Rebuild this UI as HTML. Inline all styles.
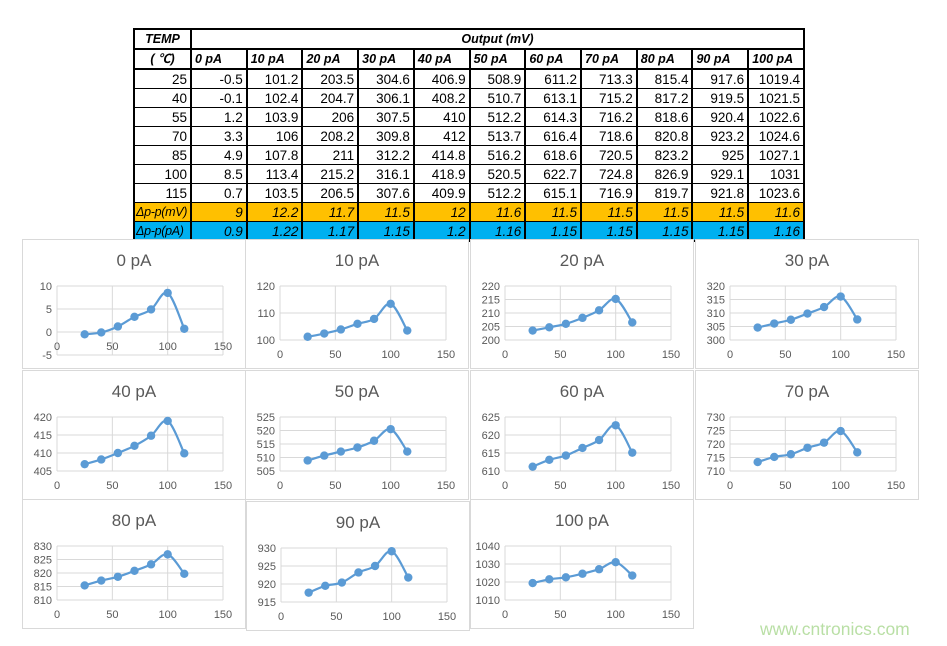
<!DOCTYPE html>
<html><head><meta charset="utf-8">
<style>
body{margin:0;background:#fff;width:947px;height:646px;overflow:hidden;position:relative;font-family:"Liberation Sans","Noto Sans CJK SC",sans-serif;}
table{position:absolute;left:133px;top:28px;border-collapse:collapse;table-layout:fixed;width:672px;font-size:13.5px;}
td{border-top:1px solid #000;border-bottom:1px solid #000;border-left:2px solid #000;border-right:2px solid #000;padding:0 3px;height:18px;text-align:right;white-space:nowrap;overflow:hidden;line-height:17px;}
tr.h td{font-weight:bold;font-style:italic;text-align:left;border-bottom:2px solid #000;font-size:12.5px;}
tr.h1 td{border-top:2px solid #000;border-bottom:2px solid #000;}
tr.o td{background:#FFC000;font-style:italic;}
tr.b td{background:#00B0F0;font-style:italic;border-bottom:2px solid #000;}
td.f{padding:0 0 0 1px;font-size:12.5px;letter-spacing:-0.3px;text-align:left;}
svg{position:absolute;left:0;top:0;}
.wm{position:absolute;left:760px;top:619px;color:#b9dfa5;font-size:17.5px;}
</style></head><body>
<table>
<colgroup><col style="width:57px"><col span="11"></colgroup>
<tr class="h h1"><td style="text-align:center">TEMP</td><td colspan="11" style="text-align:center;border-bottom:2px solid #000">Output (mV)</td></tr>
<tr class="h"><td style="text-align:center">( ℃)</td><td>0 pA</td><td>10 pA</td><td>20 pA</td><td>30 pA</td><td>40 pA</td><td>50 pA</td><td>60 pA</td><td>70 pA</td><td>80 pA</td><td>90 pA</td><td>100 pA</td></tr>
<tr><td>25</td><td>-0.5</td><td>101.2</td><td>203.5</td><td>304.6</td><td>406.9</td><td>508.9</td><td>611.2</td><td>713.3</td><td>815.4</td><td>917.6</td><td>1019.4</td></tr>
<tr><td>40</td><td>-0.1</td><td>102.4</td><td>204.7</td><td>306.1</td><td>408.2</td><td>510.7</td><td>613.1</td><td>715.2</td><td>817.2</td><td>919.5</td><td>1021.5</td></tr>
<tr><td>55</td><td>1.2</td><td>103.9</td><td>206</td><td>307.5</td><td>410</td><td>512.2</td><td>614.3</td><td>716.2</td><td>818.6</td><td>920.4</td><td>1022.6</td></tr>
<tr><td>70</td><td>3.3</td><td>106</td><td>208.2</td><td>309.8</td><td>412</td><td>513.7</td><td>616.4</td><td>718.6</td><td>820.8</td><td>923.2</td><td>1024.6</td></tr>
<tr><td>85</td><td>4.9</td><td>107.8</td><td>211</td><td>312.2</td><td>414.8</td><td>516.2</td><td>618.6</td><td>720.5</td><td>823.2</td><td>925</td><td>1027.1</td></tr>
<tr><td>100</td><td>8.5</td><td>113.4</td><td>215.2</td><td>316.1</td><td>418.9</td><td>520.5</td><td>622.7</td><td>724.8</td><td>826.9</td><td>929.1</td><td>1031</td></tr>
<tr><td>115</td><td>0.7</td><td>103.5</td><td>206.5</td><td>307.6</td><td>409.9</td><td>512.2</td><td>615.1</td><td>716.9</td><td>819.7</td><td>921.8</td><td>1023.6</td></tr>
<tr class="o"><td class="f">Δp-p(mV)</td><td>9</td><td>12.2</td><td>11.7</td><td>11.5</td><td>12</td><td>11.6</td><td>11.5</td><td>11.5</td><td>11.5</td><td>11.5</td><td>11.6</td></tr>
<tr class="b"><td class="f">Δp-p(pA)</td><td>0.9</td><td>1.22</td><td>1.17</td><td>1.15</td><td>1.2</td><td>1.16</td><td>1.15</td><td>1.15</td><td>1.15</td><td>1.15</td><td>1.16</td></tr>
</table>
<svg id="s" width="947" height="646" xmlns="http://www.w3.org/2000/svg" style="top:0"></svg>
<div class="wm">www.cntronics.com</div>
<script>
var P=[
["0 pA",22,239,-5,10,5,[-0.5,-0.1,1.2,3.3,4.9,8.5,0.7]],
["10 pA",245,239,100,120,10,[101.2,102.4,103.9,106,107.8,113.4,103.5]],
["20 pA",470,239,200,220,5,[203.5,204.7,206,208.2,211,215.2,206.5]],
["30 pA",695,239,300,320,5,[304.6,306.1,307.5,309.8,312.2,316.1,307.6]],
["40 pA",22,370,405,420,5,[406.9,408.2,410,412,414.8,418.9,409.9]],
["50 pA",245,370,505,525,5,[508.9,510.7,512.2,513.7,516.2,520.5,512.2]],
["60 pA",470,370,610,625,5,[611.2,613.1,614.3,616.4,618.6,622.7,615.1]],
["70 pA",695,370,710,730,5,[713.3,715.2,716.2,718.6,720.5,724.8,716.9]],
["80 pA",22,499,810,830,5,[815.4,817.2,818.6,820.8,823.2,826.9,819.7]],
["90 pA",246,501,915,930,5,[917.6,919.5,920.4,923.2,925,929.1,921.8]],
["100 pA",470,499,1010,1040,10,[1019.4,1021.5,1022.6,1024.6,1027.1,1031,1023.6]]
];
var X=[25,40,55,70,85,100,115];
var h='';
P.forEach(function(p){
 var ox=p[1],oy=p[2],mn=p[3],mx=p[4],st=p[5],d=p[6];
 h+='<rect x="'+(ox+0.5)+'" y="'+(oy+0.5)+'" width="223" height="129" fill="#fff" stroke="#d9d9d9"/>';
 h+='<text x="'+(ox+112)+'" y="'+(oy+27)+'" font-size="17" fill="#595959" text-anchor="middle">'+p[0]+'</text>';
 var L=ox+35,W=166,T=oy+47,B=(p[0]=="0 pA")?oy+116:oy+101;
 function sx(v){return L+v/150*W;} function sy(v){return B-(v-mn)/(mx-mn)*(B-T);}
 for(var v=mn;v<=mx+1e-9;v+=st){h+='<line x1="'+L+'" x2="'+(L+W)+'" y1="'+sy(v)+'" y2="'+sy(v)+'" stroke="#d9d9d9"/>';
  h+='<text x="'+(L-5)+'" y="'+(sy(v)+4)+'" font-size="11" fill="#595959" text-anchor="end">'+v+'</text>';}
 for(var u=0;u<=150;u+=50){h+='<line x1="'+sx(u)+'" x2="'+sx(u)+'" y1="'+T+'" y2="'+B+'" stroke="#d9d9d9"/>';
  var ly=(p[0]=="0 pA")?sy(0)+18:B+18;
  h+='<text x="'+sx(u)+'" y="'+ly+'" font-size="11" fill="#595959" text-anchor="middle">'+u+'</text>';}
 var pts=X.map(function(x,i){return [sx(x),sy(d[i])];});
 var path='M'+pts[0][0]+' '+pts[0][1];
 for(var i=0;i<pts.length-1;i++){var p0=pts[Math.max(0,i-1)],p1=pts[i],p2=pts[i+1],p3=pts[Math.min(pts.length-1,i+2)];
  var c1=[p1[0]+(p2[0]-p0[0])/6,p1[1]+(p2[1]-p0[1])/6],c2=[p2[0]-(p3[0]-p1[0])/6,p2[1]-(p3[1]-p1[1])/6];
  path+=' C'+c1+' '+c2+' '+p2;}
 h+='<path d="'+path+'" fill="none" stroke="#5B9BD5" stroke-width="2.2"/>';
 pts.forEach(function(q){h+='<circle cx="'+q[0]+'" cy="'+q[1]+'" r="4.2" fill="#5B9BD5"/>';});
});
document.getElementById('s').innerHTML=h;
</script>
</body></html>
